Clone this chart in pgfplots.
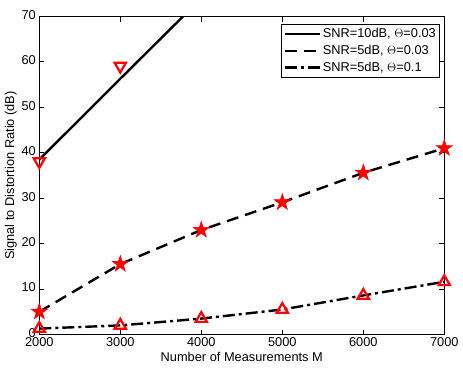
\documentclass[border=0pt]{standalone}
\usepackage{fontspec}
\setmainfont{Liberation Sans}
\usepackage{pgfplots}
\pgfplotsset{compat=1.18}
\usetikzlibrary{plotmarks}

% filled five-pointed star, like matlab's 'p' marker
\pgfdeclareplotmark{pentagram}{%
  \pgfpathmoveto{\pgfpointpolar{90}{\pgfplotmarksize}}%
  \pgfpathlineto{\pgfpointpolar{126}{0.382\pgfplotmarksize}}%
  \pgfpathlineto{\pgfpointpolar{162}{\pgfplotmarksize}}%
  \pgfpathlineto{\pgfpointpolar{198}{0.382\pgfplotmarksize}}%
  \pgfpathlineto{\pgfpointpolar{234}{\pgfplotmarksize}}%
  \pgfpathlineto{\pgfpointpolar{270}{0.382\pgfplotmarksize}}%
  \pgfpathlineto{\pgfpointpolar{306}{\pgfplotmarksize}}%
  \pgfpathlineto{\pgfpointpolar{342}{0.382\pgfplotmarksize}}%
  \pgfpathlineto{\pgfpointpolar{18}{\pgfplotmarksize}}%
  \pgfpathlineto{\pgfpointpolar{54}{0.382\pgfplotmarksize}}%
  \pgfpathclose
  \pgfusepathqfillstroke
}

\begin{document}
\begin{tikzpicture}
\fontsize{12.8bp}{15bp}\selectfont
\path[use as bounding box] (-39.3bp,-36.5bp) rectangle (423.7bp,334.5bp);
\begin{axis}[
    at={(0,0)}, anchor=south west,
    scale only axis,
    width=405bp, height=318bp,
    xmin=2000, xmax=7000,
    ymin=0, ymax=70,
    xtick={2000,3000,4000,5000,6000,7000},
    ytick={0,10,...,70},
    scaled x ticks=false,
    /pgf/number format/set thousands separator={},
    /pgf/number format/assume math mode=true,
    tick label style={font=\fontsize{12.8bp}{15bp}\selectfont},
    label style={font=\fontsize{12.8bp}{15bp}\selectfont},
    xtick pos=both, ytick pos=both,
    tick align=inside,
    major tick length=5bp,
    axis line style={line width=0.9bp},
    every tick/.style={line width=0.9bp, black},
    xticklabel style={yshift=1.5bp},
    yticklabel style={xshift=1bp, yshift=1.5bp},
    xlabel={Number of Measurements M},
    ylabel={Signal to Distortion Ratio (dB)},
    xlabel style={yshift=3bp},
    ylabel style={yshift=-4bp},
    legend cell align=left,
    legend image code/.code={\draw[#1] (0bp,0bp) -- (35bp,0bp);},
    legend style={at={(rel axis cs:1,1)}, anchor=north east,
        xshift=-4bp, yshift=-7.5bp,
        font=\fontsize{12.8bp}{15bp}\selectfont,
        draw=black, line width=0.9bp,
        inner xsep=2bp, inner ysep=2bp, row sep=1.5bp},
]
%% lines (legend entries)
\addplot[black, line width=2.4bp, solid, mark=none]
    coordinates {(2000,38.5)(3000,56.3)(4000,74.0)};
\addlegendentry{SNR=10dB, $\Theta$=0.03}

\addplot[black, line width=2.4bp, dash pattern=on 12bp off 7bp, mark=none]
    coordinates {(2000,5.0)(3000,15.5)(4000,23.0)(5000,29.1)(6000,35.6)(7000,41.0)};
\addlegendentry{SNR=5dB, $\Theta$=0.03}

\addplot[black, line width=2.4bp, dash pattern=on 12bp off 4bp on 3bp off 4bp, mark=none]
    coordinates {(2000,1.3)(3000,2.0)(4000,3.5)(5000,5.5)(6000,8.6)(7000,11.6)};
\addlegendentry{SNR=5dB, $\Theta$=0.1}

%% red markers
\addplot[forget plot, only marks, red, mark=triangle, mark size=6.5bp,
    mark options={line width=2.2bp, rotate=180}]
    coordinates {(2000,38.1)(3000,59.1)};
\addplot[forget plot, only marks, red, mark=pentagram, mark size=8.5bp,
    mark options={line width=0.6bp, fill=red}]
    coordinates {(2000,5.0)(3000,15.5)(4000,23.0)(5000,29.1)(6000,35.6)(7000,41.0)};
\addplot[forget plot, only marks, red, mark=triangle, mark size=6.5bp,
    mark options={line width=2.2bp}]
    coordinates {(2000,1.3)(3000,2.0)(4000,3.5)(5000,5.5)(6000,8.6)(7000,11.6)};
\end{axis}
\end{tikzpicture}
\end{document}
